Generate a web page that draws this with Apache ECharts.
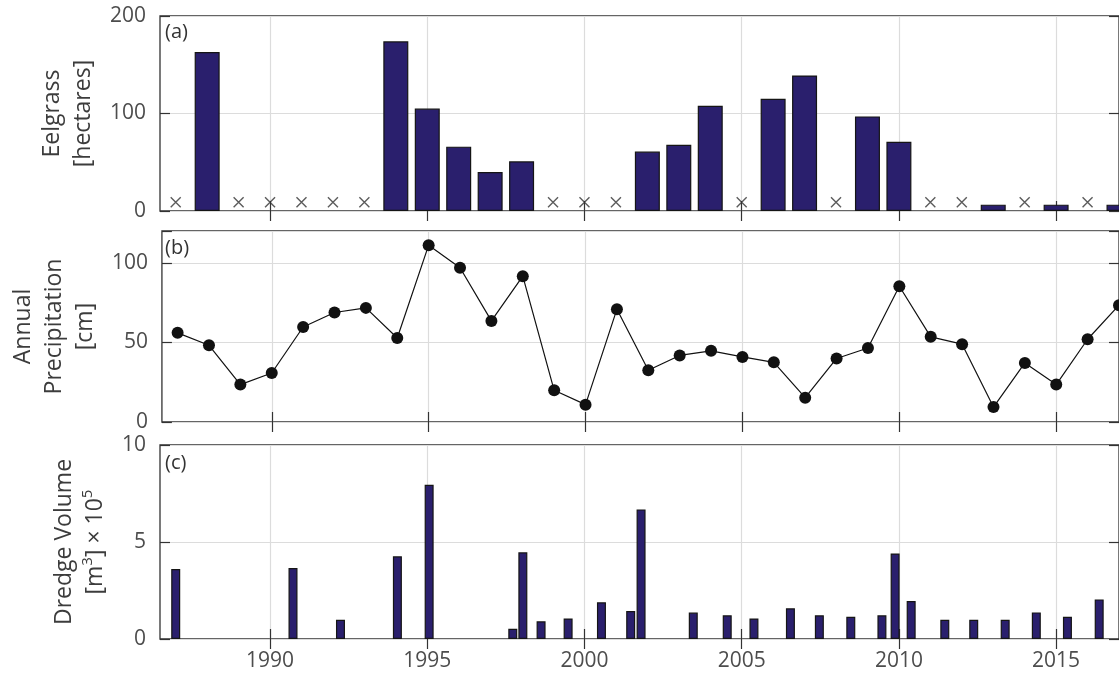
<!DOCTYPE html>
<html>
<head>
<meta charset="utf-8">
<script src="https://cdn.jsdelivr.net/npm/echarts@6/dist/echarts.min.js"></script>
<style>
  html, body { margin: 0; padding: 0; background: #fff; }
  #chart { width: 1119px; height: 676px; }
</style>
</head>
<body>
<div id="chart"></div>
<script>
// (a) Eelgrass extent by survey year; years with no survey are marked "x"
const eelgrassYears = [1988, 1994, 1995, 1996, 1997, 1998, 2002, 2003, 2004, 2006, 2007, 2009, 2010, 2013, 2015, 2017];
const eelgrassArea  = [163, 174, 105, 66, 40, 51, 61, 68, 108, 115, 139, 97, 71, 6.5, 6.5, 6.5];
const noSurveyYears = [1987, 1989, 1990, 1991, 1992, 1993, 1999, 2000, 2001, 2005, 2008, 2011, 2012, 2014, 2016];

// (b) Annual precipitation [cm]
const precipYears = [1987, 1988, 1989, 1990, 1991, 1992, 1993, 1994, 1995, 1996, 1997, 1998, 1999, 2000, 2001, 2002,
                     2003, 2004, 2005, 2006, 2007, 2008, 2009, 2010, 2011, 2012, 2013, 2014, 2015, 2016, 2017];
const precipCm = [56, 48.2, 23.5, 30.8, 59.7, 68.8, 71.7, 52.8, 111.1, 96.9, 63.5, 91.6, 19.9, 10.9, 70.9, 32.5,
                  41.8, 44.7, 40.9, 37.5, 15.3, 39.9, 46.5, 85.3, 53.5, 48.9, 9.4, 37.1, 23.5, 52, 73.4];

// (c) Dredge volume [m^3 x 10^5] by dredging date (decimal year)
const dredgeDates = [1987.0, 1990.73, 1992.24, 1994.05, 1995.06, 1997.72, 1998.04, 1998.62, 1999.48, 2000.54,
                     2001.47, 2001.8, 2003.46, 2004.54, 2005.39, 2006.55, 2007.47, 2008.47, 2009.46, 2009.88,
                     2010.39, 2011.46, 2012.38, 2013.38, 2014.37, 2015.36, 2016.37];
const dredgeVolume = [3.61, 3.66, 0.99, 4.26, 7.95, 0.53, 4.47, 0.91, 1.06, 1.89,
                      1.44, 6.68, 1.36, 1.22, 1.06, 1.58, 1.22, 1.15, 1.22, 4.41,
                      1.96, 0.99, 0.99, 0.99, 1.37, 1.15, 2.04];

const yearTicks = [1990, 1995, 2000, 2005, 2010, 2015];

const FONT = '"Open Sans", "Noto Sans", sans-serif';
const TICK_COLOR = '#333';
const LABEL_COLOR = '#4d4d4d';
const BAR_FILL = '#2a1f6d';
const X_MIN = 1986.5, X_MAX = 2017;

const grids = [
  { left: 160, width: 965, top: 16, height: 195 },
  { left: 160, width: 965, top: 231, height: 191 },
  { left: 160, width: 965, top: 445, height: 194 }
].map(g => Object.assign({ show: true, borderColor: '#333', borderWidth: 1.3, backgroundColor: 'transparent' }, g));

function xAxes(gridIndex, showLabels) {
  return [
    {
      type: 'value', gridIndex, position: 'bottom', min: X_MIN, max: X_MAX,
      axisLine: { show: false },
      axisTick: { show: true, inside: true, length: 10, customValues: yearTicks, lineStyle: { color: TICK_COLOR, width: 1.2 } },
      axisLabel: {
        show: showLabels, customValues: yearTicks, margin: 12, color: LABEL_COLOR, fontFamily: FONT, fontSize: 21,
        formatter: v => String(v)
      },
      splitLine: { show: true, lineStyle: { color: '#dcdcdc', width: 1.2 } }
    },
    {
      type: 'value', gridIndex, position: 'top', min: X_MIN, max: X_MAX,
      axisLine: { show: false },
      axisTick: { show: true, inside: true, length: 10, customValues: yearTicks, lineStyle: { color: TICK_COLOR, width: 1.2 } },
      axisLabel: { show: false },
      splitLine: { show: false }
    }
  ];
}

function yAxes(gridIndex, min, max, interval, name, nameGap, rich) {
  return [
    {
      type: 'value', gridIndex, position: 'left', min, max, interval,
      axisLine: { show: false },
      axisTick: { show: true, inside: true, length: 10, lineStyle: { color: TICK_COLOR, width: 1.2 } },
      axisLabel: {
        margin: 14, color: LABEL_COLOR, fontFamily: FONT, fontSize: 21,
        formatter: v => (v % interval === 0 ? String(v) : '')
      },
      splitLine: { show: true, lineStyle: { color: '#dcdcdc', width: 1.2 } },
      name, nameLocation: 'middle', nameRotate: 90, nameGap,
      nameTextStyle: Object.assign({ color: '#3c3c3c', fontFamily: FONT, fontSize: 23, lineHeight: 31, align: 'center' },
                                   rich ? { rich } : {})
    },
    {
      type: 'value', gridIndex, position: 'right', min, max, interval,
      axisLine: { show: false },
      axisTick: { show: true, inside: true, length: 10, lineStyle: { color: TICK_COLOR, width: 1.2 } },
      axisLabel: { show: false },
      splitLine: { show: false }
    }
  ];
}

const pair = (xs, ys) => xs.map((x, i) => [x, ys[i]]);

const option = {
  animation: false,
  backgroundColor: '#fff',
  textStyle: { fontFamily: FONT },
  title: [
    { text: '(a)', left: 165, top: 22 },
    { text: '(b)', left: 165, top: 238 },
    { text: '(c)', left: 165, top: 453 }
  ].map(t => Object.assign({ padding: 0, textStyle: { fontFamily: FONT, fontSize: 20, fontWeight: 'normal', color: '#333' } }, t)),
  grid: grids,
  xAxis: [].concat(xAxes(0, false), xAxes(1, false), xAxes(2, true)),
  yAxis: [].concat(
    yAxes(0, 0, 200, 100, 'Eelgrass\n[hectares]', 57),
    yAxes(1, 0, 120, 50, 'Annual\nPrecipitation\n[cm]', 57),
    yAxes(2, 0, 10, 5, 'Dredge Volume\n{b|[m}{s|3}{b|] × 10}{s|5}', 45, {
      b: { fontFamily: FONT, fontSize: 23, color: '#3c3c3c', lineHeight: 31 },
      s: { fontFamily: FONT, fontSize: 15, color: '#3c3c3c', verticalAlign: 'top', lineHeight: 31 }
    })
  ),
  series: [
    {
      type: 'bar', xAxisIndex: 0, yAxisIndex: 0,
      data: pair(eelgrassYears, eelgrassArea),
      barWidth: 25,
      itemStyle: { color: BAR_FILL, borderColor: '#151515', borderWidth: 1.2 }
    },
    {
      type: 'scatter', xAxisIndex: 0, yAxisIndex: 0,
      data: noSurveyYears.map(y => [y, 9]),
      symbol: 'path://M0,0L10,10M10,0L0,10',
      symbolSize: 10,
      itemStyle: { color: 'transparent', borderColor: '#333', borderWidth: 1.4 }
    },
    {
      type: 'line', xAxisIndex: 2, yAxisIndex: 2,
      data: pair(precipYears, precipCm),
      symbol: 'circle', symbolSize: 12, showAllSymbol: true,
      lineStyle: { color: '#111', width: 1.2 },
      itemStyle: { color: '#111' }
    },
    {
      type: 'bar', xAxisIndex: 4, yAxisIndex: 4,
      data: pair(dredgeDates, dredgeVolume),
      barWidth: 9,
      itemStyle: { color: BAR_FILL, borderColor: '#151515', borderWidth: 1.2 }
    }
  ]
};

const chart = echarts.init(document.getElementById('chart'), null, { renderer: 'canvas' });
chart.setOption(option);
</script>
</body>
</html>
